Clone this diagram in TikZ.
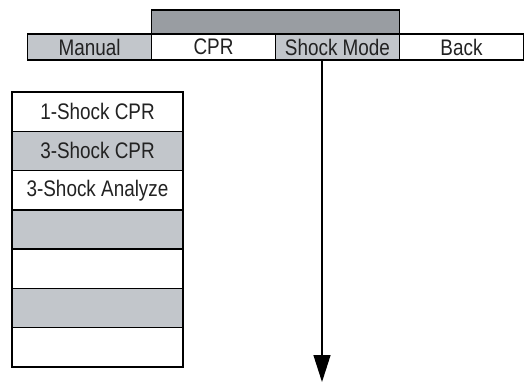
\documentclass[tikz,border=0pt]{standalone}
\usepackage{fontspec}
\setmainfont[FakeStretch=0.84]{Liberation Sans}
\usepackage{tikz}
\usepackage{xcolor}
\usetikzlibrary{arrows.meta, positioning, calc}

\definecolor{bardark}{HTML}{999DA2}
\definecolor{barlight}{HTML}{C2C6CB}
\definecolor{ink}{HTML}{222222}

\begin{document}
\begin{tikzpicture}[
    x=1pt, y=-1pt,
    font=\fontsize{22.5}{26}\selectfont,
    tab/.style={draw, line width=1.4pt, text=ink, minimum width=124pt, minimum height=26pt, inner sep=0pt, outer sep=0pt, fill=white},
    item/.style={draw, line width=1.4pt, text=ink, minimum width=171pt, minimum height=39.3pt, inner sep=0pt, outer sep=0pt, fill=white},
    arrow/.style={line width=1.4pt, -{Triangle[length=27pt, width=17pt]}}
]
    \useasboundingbox (0,0) rectangle (529,383);

    % Soft keys
    \node (manual) [tab, fill=barlight] at (89.5,47) {Manual};
    \node (cpr) [tab, right=0pt of manual] {CPR};
    \node (shock) [tab, fill=barlight, right=0pt of cpr] {Shock Mode};
    \node (back) [tab, right=0pt of shock] {Back};

    % Title bar
    \node (title) [draw, line width=1.4pt, fill=bardark, minimum width=248pt, minimum height=24pt, inner sep=0pt, outer sep=0pt, anchor=south west] at (cpr.north west) {};

    % Menu
    \node (one) [item] at (97.5,111.6) {1-Shock CPR};
    \node (three) [item, fill=barlight, below=0pt of one] {3-Shock CPR};
    \node (analyze) [item, below=0pt of three] {3-Shock Analyze};
    \node (blanka) [item, fill=barlight, below=0pt of analyze] {};
    \node (blankb) [item, below=0pt of blanka] {};
    \node (blankc) [item, fill=barlight, below=0pt of blankb] {};
    \node (blankd) [item, below=0pt of blankc] {};

    % Arrow
    \coordinate (start) at ($(shock.south)+(-15.5,0)$);
    \coordinate (tip) at ($(start)+(0,322)$);
    \draw[arrow] (start) -- (tip);
\end{tikzpicture}
\end{document}
